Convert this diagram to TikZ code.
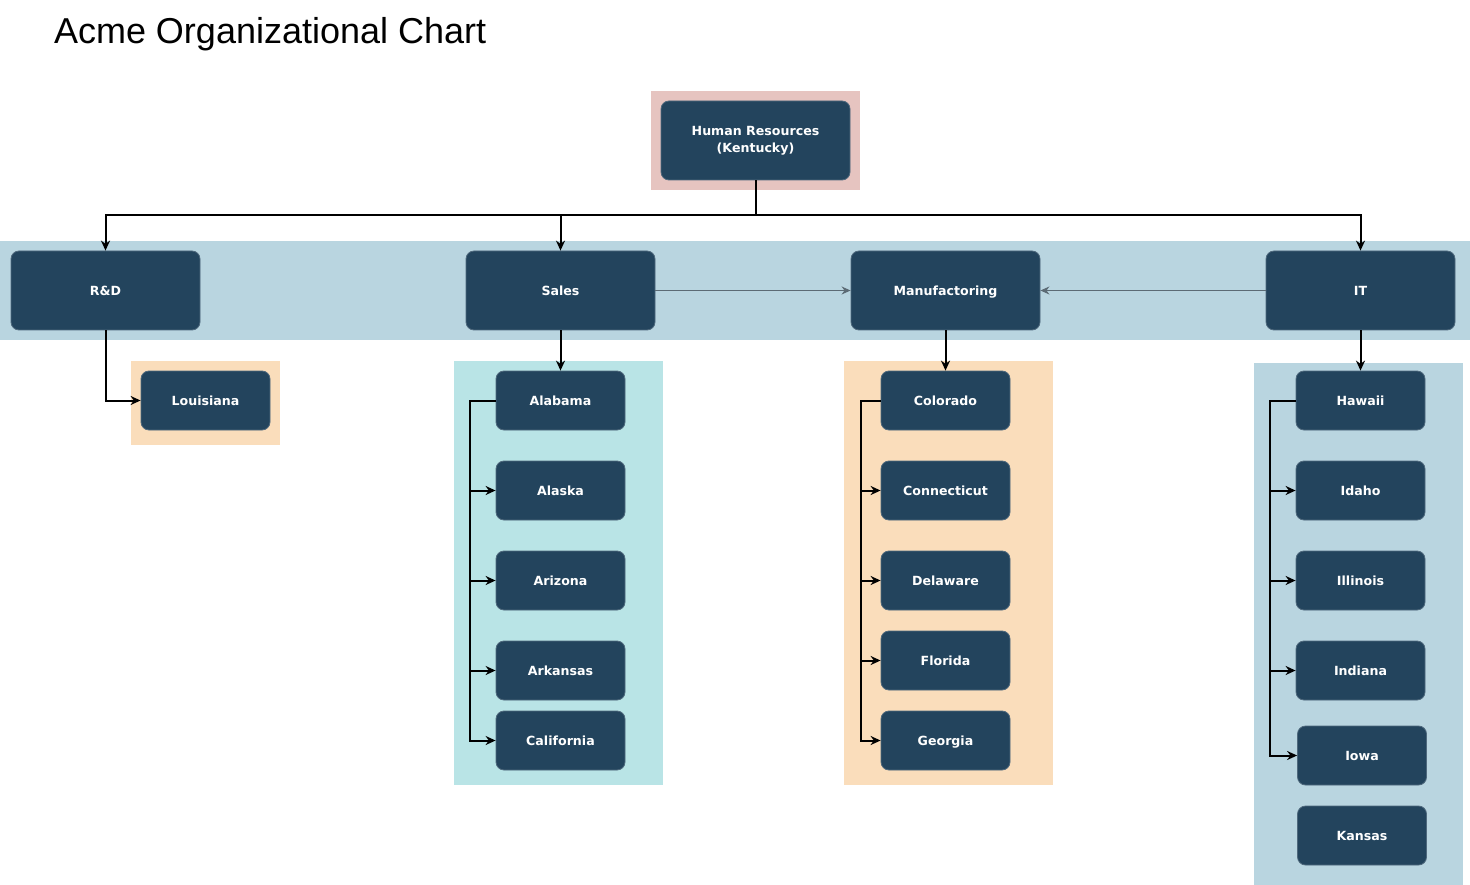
\documentclass[tikz,border=0pt]{standalone}
\usepackage{fontspec}
\setmainfont{DejaVu Sans}
\newfontfamily\titlefont{Liberation Sans}
\usetikzlibrary{arrows.meta}

\definecolor{unitblue}{HTML}{23445D}
\definecolor{bandblue}{HTML}{B9D5E0}
\definecolor{salescyan}{HTML}{B9E4E6}
\definecolor{peach}{HTML}{FADDBB}
\definecolor{hrpink}{HTML}{E6C4C0}
\definecolor{thinline}{HTML}{5C6B75}

\begin{document}
\begin{tikzpicture}[x=1pt, y=-1pt, line width=2pt,
    unit/.style={draw=unitblue!80!white, line width=0.8pt, fill=unitblue,
      rounded corners=8pt, text=white, align=center, inner sep=0pt,
      font=\bfseries\fontsize{12.6}{17}\selectfont},
    oneline/.style={text height=12.5pt, text depth=2pt},
    dept/.style={unit, minimum width=189pt, minimum height=79pt},
    office/.style={unit, oneline, minimum width=129pt, minimum height=59pt},
    link/.style={draw=black, -{Stealth[length=10pt, width=9pt]}},
    sidelink/.style={draw=thinline, line width=1.4pt, -{Stealth[length=9pt, width=8pt]}}]
    \useasboundingbox (0, 0) rectangle (1470, 885);

    % title
    \node[anchor=base west, inner sep=0pt, font=\titlefont\fontsize{36}{42}\selectfont] (title)
      at (53, 44) {Acme Organizational Chart};

    % draw coloured backgrounds
    \fill[hrpink] (651, 91) rectangle (860, 190);
    \fill[bandblue] (0, 241) rectangle (1470, 340);
    \fill[peach] (131, 361) rectangle (280, 445);
    \fill[salescyan] (454, 361) rectangle (663, 785);
    \fill[peach] (844, 361) rectangle (1053, 785);
    \fill[bandblue] (1254, 363) rectangle (1463, 885);

    % head office and departments
    \node[dept] (hr) at (755.5, 140.5) {Human Resources\\(Kentucky)};
    \node[dept, oneline] (rd) at (105.5, 290.5) {R\&D};
    \node[dept, oneline] (sales) at (560.5, 290.5) {Sales};
    \node[dept, oneline] (mfg) at (945.5, 290.5) {Manufactoring};
    \node[dept, oneline] (it) at (1360.5, 290.5) {IT};

    % R&D office
    \node[office] (louisiana) at (205.5, 400.5) {Louisiana};

    % sales offices
    \node[office] (alabama) at (560.5, 400.5) {Alabama};
    \node[office] (alaska) at (560.5, 490.5) {Alaska};
    \node[office] (arizona) at (560.5, 580.5) {Arizona};
    \node[office] (arkansas) at (560.5, 670.5) {Arkansas};
    \node[office] (california) at (560.5, 740.5) {California};

    % manufactoring offices
    \node[office] (colorado) at (945.5, 400.5) {Colorado};
    \node[office] (connecticut) at (945.5, 490.5) {Connecticut};
    \node[office] (delaware) at (945.5, 580.5) {Delaware};
    \node[office] (florida) at (945.5, 660.5) {Florida};
    \node[office] (georgia) at (945.5, 740.5) {Georgia};

    % IT offices
    \node[office] (hawaii) at (1360.5, 400.5) {Hawaii};
    \node[office] (idaho) at (1360.5, 490.5) {Idaho};
    \node[office] (illinois) at (1360.5, 580.5) {Illinois};
    \node[office] (indiana) at (1360.5, 670.5) {Indiana};
    \node[office] (iowa) at (1362, 755.5) {Iowa};
    \node[office] (kansas) at (1362, 835.5) {Kansas};

    % draw head office bus
    \coordinate (hrbus) at (755.5, 215);
    \draw (hr) -- (hrbus);
    \draw[link] (hrbus) -| (rd.north);
    \draw[link] (hrbus) -| (sales.north);
    \draw[link] (hrbus) -| (it.north);

    % draw side links into manufactoring
    \draw[sidelink] (sales) -- (mfg);
    \draw[sidelink] (it) -- (mfg);

    % draw department to first office
    \draw[link] (rd) |- (louisiana);
    \draw[link] (sales) -- (alabama);
    \draw[link] (mfg) -- (colorado);
    \draw[link] (it) -- (hawaii);

    % draw office trunks
    \foreach \office in {alaska, arizona, arkansas, california}
      \draw[link] (alabama.west) -- ++(-26, 0) |- (\office.west);
    \foreach \office in {connecticut, delaware, florida, georgia}
      \draw[link] (colorado.west) -- ++(-20, 0) |- (\office.west);
    \foreach \office in {idaho, illinois, indiana, iowa}
      \draw[link] (hawaii.west) -- ++(-26, 0) |- (\office.west);

\end{tikzpicture}
\end{document}
